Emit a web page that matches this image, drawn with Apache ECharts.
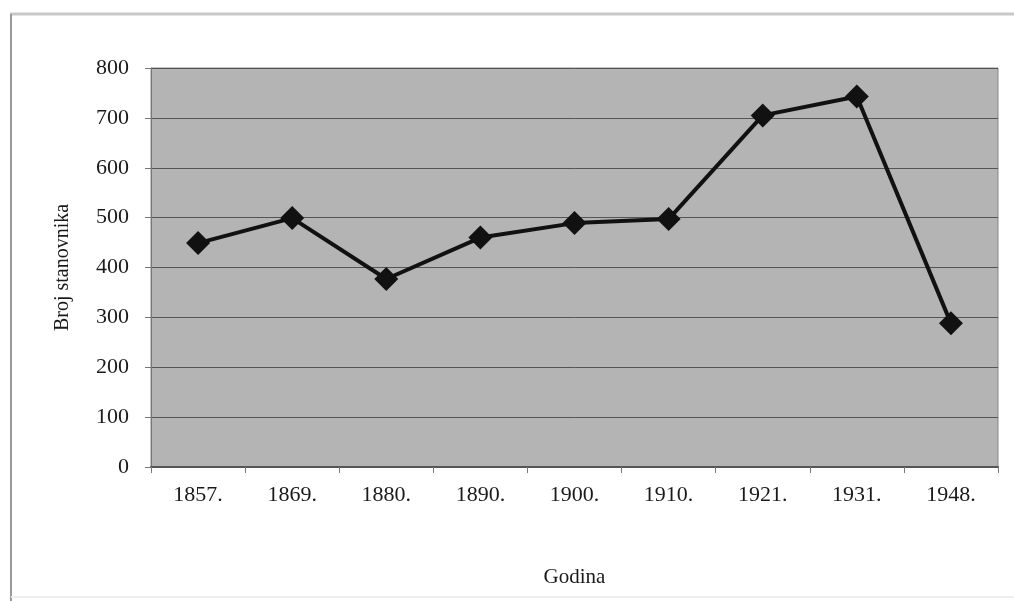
<!DOCTYPE html>
<html><head><meta charset="utf-8">
<script src="https://cdn.jsdelivr.net/npm/echarts@6/dist/echarts.min.js"></script>
<style>html,body{margin:0;padding:0;background:#fff}#c{width:1014px;height:601px}</style>
</head><body><div id="c"></div>
<script>
const categories = ['1857.', '1869.', '1880.', '1890.', '1900.', '1910.', '1921.', '1931.', '1948.'];
const population = [449, 499, 377, 460, 489, 497, 705, 743, 288];
const yTicks = { min: 0, max: 800, interval: 100 };
const xTitle = 'Godina';
const yTitle = 'Broj stanovnika';

const chart = echarts.init(document.getElementById('c'));
const font = 'Liberation Serif';
chart.setOption({
  animation: false,
  backgroundColor: '#fff',
  graphic: [
    { type: 'line', shape: { x1: 10, y1: 14, x2: 1014, y2: 14 }, style: { stroke: '#c8c8c8', lineWidth: 3 } },
    { type: 'line', shape: { x1: 11, y1: 14, x2: 11, y2: 601 }, style: { stroke: '#999', lineWidth: 2 } },
    { type: 'line', shape: { x1: 11, y1: 597, x2: 1014, y2: 597 }, style: { stroke: '#eee', lineWidth: 2 } }
  ],
  grid: { left: 151, right: 16, top: 68, bottom: 134, show: true, backgroundColor: '#b4b4b4', borderColor: '#888', borderWidth: 1 },
  xAxis: {
    type: 'category', data: categories, boundaryGap: true,
    name: xTitle, nameLocation: 'middle', nameGap: 100,
    nameTextStyle: { fontFamily: font, fontSize: 21, color: '#1a1a1a' },
    axisLine: { lineStyle: { color: '#555', width: 2 } },
    axisTick: { show: true, length: 6, lineStyle: { color: '#777' } },
    axisLabel: { fontFamily: font, fontSize: 22, color: '#1a1a1a', margin: 17 }
  },
  yAxis: {
    type: 'value', min: yTicks.min, max: yTicks.max, interval: yTicks.interval,
    name: yTitle, nameLocation: 'middle', nameGap: 78, nameRotate: 90,
    nameTextStyle: { fontFamily: font, fontSize: 20, color: '#1a1a1a' },
    axisLine: { show: true, lineStyle: { color: '#777', width: 1 } },
    axisTick: { show: true, length: 6, lineStyle: { color: '#777' } },
    axisLabel: { fontFamily: font, fontSize: 22, color: '#1a1a1a', margin: 22 },
    splitLine: { lineStyle: { color: '#555', width: 1 } }
  },
  series: [{
    type: 'line', data: population,
    symbol: 'diamond', symbolSize: 24,
    lineStyle: { color: '#111', width: 4 },
    itemStyle: { color: '#111' }
  }]
});
</script></body></html>
